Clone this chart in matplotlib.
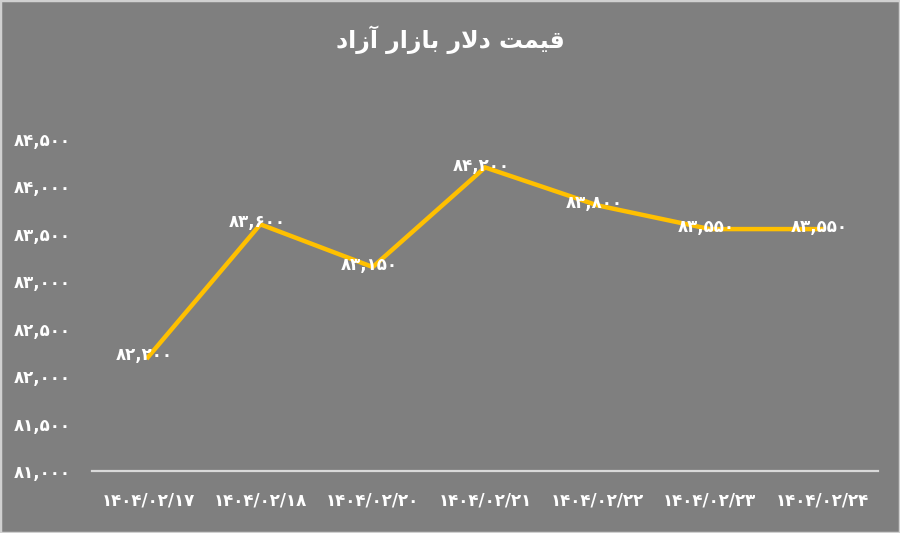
import matplotlib
matplotlib.use("Agg")
import matplotlib.pyplot as plt
from matplotlib.patches import Rectangle

# داده ها
tarikh = ["1404/02/17", "1404/02/18", "1404/02/20", "1404/02/21",
          "1404/02/22", "1404/02/23", "1404/02/24"]
gheymat = [82200, 83600, 83150, 84200, 83800, 83550, 83550]
y_ticks = [81000, 81500, 82000, 82500, 83000, 83500, 84000, 84500]

# عنوان: حروف شکل داده شده، به ترتیب نمایشی (چپ به راست)
onvan = ("\uFEA9\uFE8D\uFEAF\uFE81" + " " +
         "\uFEAD\uFE8D\uFEAF\uFE8E\uFE91" + " " +
         "\uFEAD\uFEFB\uFEA9" + " " +
         "\uFE96\uFEE4\uFEF4\uFED7")

FA = str.maketrans("0123456789", "\u06F0\u06F1\u06F2\u06F3\u06F4\u06F5\u06F6\u06F7\u06F8\u06F9")


def fa_num(v):
    return f"{v:,}".translate(FA)


plt.rcParams["font.family"] = ["DejaVu Sans"]

bg = "#7f7f7f"
fig = plt.figure(figsize=(9, 5.33), dpi=100, facecolor=bg)
ax = fig.add_axes([0.102, 0.1163, 0.874, 0.623])
ax.set_facecolor(bg)

x = list(range(len(tarikh)))
ax.plot(x, gheymat, color="#ffc000", linewidth=3.2, solid_joinstyle="miter", zorder=2)

for xi, v in zip(x, gheymat):
    ax.text(xi - 0.03, v + 20, fa_num(v), color="white", fontsize=12, fontweight="bold",
            ha="center", va="center", zorder=3)

ax.set_xlim(-0.5, len(tarikh) - 0.5)
ax.set_ylim(81000, 84500)
ax.set_xticks(x)
ax.set_xticklabels([t.translate(FA) for t in tarikh])
ax.set_yticks(y_ticks)
ax.set_yticklabels([fa_num(v) for v in y_ticks])

for lab in ax.get_xticklabels() + ax.get_yticklabels():
    lab.set_color("white")
    lab.set_fontweight("bold")
    lab.set_fontsize(12)

ax.tick_params(axis="both", length=0)
ax.tick_params(axis="x", pad=15)
ax.tick_params(axis="y", pad=15)

for s in ["top", "right", "left"]:
    ax.spines[s].set_visible(False)
ax.spines["bottom"].set_color("#d9d9d9")
ax.spines["bottom"].set_linewidth(1.6)

fig.text(0.5, 0.925, onvan, color="white", fontsize=17, fontweight="bold",
         ha="center", va="center")

# قاب دور تصویر
fig.patches.append(Rectangle((0, 0), 1, 1, transform=fig.transFigure,
                             fill=False, edgecolor="#d0d0d0", linewidth=2.5))

fig.savefig("out.png", dpi=100, facecolor=bg)
